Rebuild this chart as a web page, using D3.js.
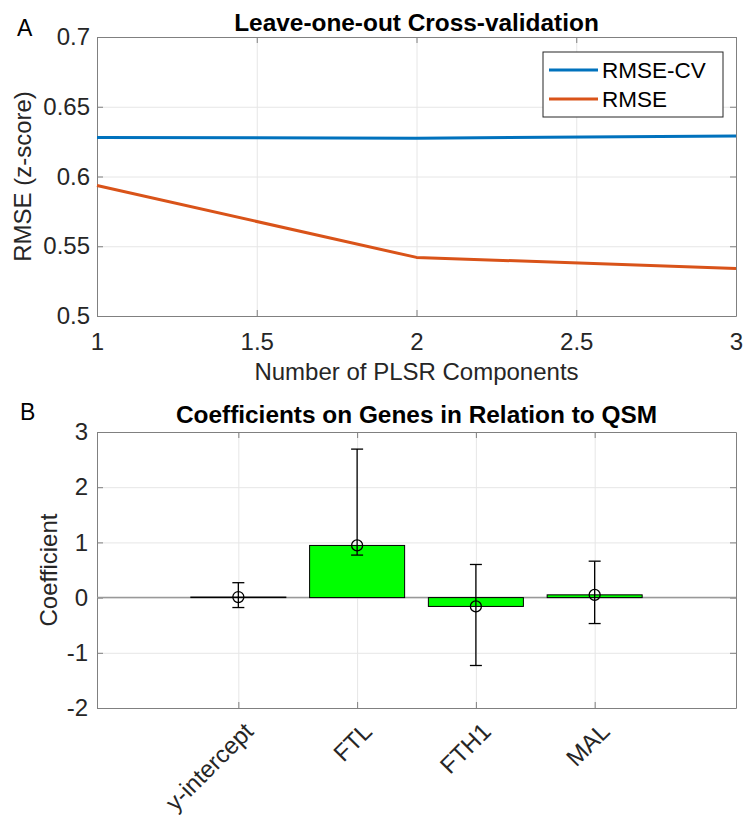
<!DOCTYPE html>
<html>
<head>
<meta charset="utf-8">
<script src="https://cdn.jsdelivr.net/npm/d3@7"></script>
<style>
  body { margin: 0; background: #fff; }
  svg { display: block; font-family: 'Liberation Sans', Arial, sans-serif; }
  .axis path, .axis line { stroke: #808080; }
  .axis text { fill: #262626; font-size: 24px; }
  .grid line { stroke: #e6e6e6; }
  .grid path { display: none; }
</style>
</head>
<body>
<div id="chart"></div>
<script>
// panel A data
const components = [1, 2, 3]
const rmseCV = [0.628, 0.6275, 0.629]
const rmse = [0.5935, 0.542, 0.534]
const xTicksA = [1, 1.5, 2, 2.5, 3]
const yTicksA = [0.5, 0.55, 0.6, 0.65, 0.7]

// panel B data
const genes = ['y-intercept', 'FTL', 'FTH1', 'MAL']
const coef = [0.01, 0.945, -0.16, 0.05]
const errLow = [-0.18, 0.77, -1.23, -0.47]
const errHigh = [0.27, 2.69, 0.6, 0.66]
const yTicksB = [-2, -1, 0, 1, 2, 3]

const width = 744
const height = 815

const svg = d3.select('#chart').append('svg')
    .attr('width', width)
    .attr('height', height)

svg.append('rect').attr('width', width).attr('height', height).attr('fill', '#fff')

// plain labels like matlab: 1, 1.5, -1 (hyphen, no trailing zeros)
const plain = d => String(d)

function frame(x, y, xTicks, yTicks, xPad, yPad) {
    const g = svg.append('g')
    const [x0, x1] = x.range()
    const [y0, y1] = y.range()

    // grid
    g.append('g').attr('class', 'grid')
        .attr('transform', `translate(0,${y0})`)
        .call(d3.axisBottom(x).tickValues(xTicks).tickSize(-(y0 - y1)).tickFormat(''))
    g.append('g').attr('class', 'grid')
        .attr('transform', `translate(${x0},0)`)
        .call(d3.axisLeft(y).tickValues(yTicks).tickSize(-(x1 - x0)).tickFormat(''))

    const ax = {}
    ax.bottom = g.append('g').attr('class', 'axis')
        .attr('transform', `translate(0,${y0})`)
        .call(d3.axisBottom(x).tickValues(xTicks).tickSize(-6).tickSizeOuter(0).tickPadding(xPad).tickFormat(plain))
    g.append('g').attr('class', 'axis')
        .attr('transform', `translate(0,${y1})`)
        .call(d3.axisTop(x).tickValues(xTicks).tickSize(-6).tickSizeOuter(0).tickFormat(''))
    g.append('g').attr('class', 'axis')
        .attr('transform', `translate(${x0},0)`)
        .call(d3.axisLeft(y).tickValues(yTicks).tickSize(-6).tickSizeOuter(0).tickPadding(yPad).tickFormat(plain))
    g.append('g').attr('class', 'axis')
        .attr('transform', `translate(${x1},0)`)
        .call(d3.axisRight(y).tickValues(yTicks).tickSize(-6).tickSizeOuter(0).tickFormat(''))
    return ax
}

// ---------- panel A ----------
const xA = d3.scaleLinear().domain([1, 3]).range([97, 736])
const yA = d3.scaleLinear().domain([0.5, 0.7]).range([316, 37])

frame(xA, yA, xTicksA, yTicksA, 17, 7)

const line = d3.line()
    .x((d, i) => xA(components[i]))
    .y(d => yA(d))

const seriesA = [
    { name: 'RMSE-CV', values: rmseCV, color: '#0072BD' },
    { name: 'RMSE', values: rmse, color: '#D95319' }
]

const plotA = svg.append('g')
seriesA.forEach(s => {
    plotA.append('path')
        .attr('d', line(s.values))
        .attr('fill', 'none')
        .attr('stroke', s.color)
        .attr('stroke-width', 3)
        .attr('stroke-linejoin', 'round')
})

const legend = svg.append('g')
legend.append('rect')
    .attr('x', 543).attr('y', 52)
    .attr('width', 180).attr('height', 65)
    .attr('fill', '#fff')
    .attr('stroke', '#262626')
seriesA.forEach((s, i) => {
    const ly = 70 + i * 29
    legend.append('line')
        .attr('x1', 549).attr('x2', 598)
        .attr('y1', ly).attr('y2', ly)
        .attr('stroke', s.color)
        .attr('stroke-width', 3)
    legend.append('text')
        .text(s.name)
        .attr('x', 602).attr('y', ly + 8)
        .style('font-size', '22.5px')
        .attr('fill', '#000')
})

svg.append('text')
    .text('Leave-one-out Cross-validation')
    .attr('x', 416.5).attr('y', 31)
    .attr('text-anchor', 'middle')
    .style('font-size', '24.4px')
    .style('font-weight', 'bold')

svg.append('text')
    .text('Number of PLSR Components')
    .attr('x', 416.5).attr('y', 380)
    .attr('text-anchor', 'middle')
    .style('font-size', '24px')
    .attr('fill', '#262626')

svg.append('text')
    .text('RMSE (z-score)')
    .attr('transform', 'translate(31,176.5) rotate(-90)')
    .attr('text-anchor', 'middle')
    .style('font-size', '24px')
    .attr('fill', '#262626')

svg.append('text')
    .text('A')
    .attr('x', 17).attr('y', 36)
    .style('font-size', '23px')

// ---------- panel B ----------
const xB = d3.scaleLinear().domain([-0.19, 5.19]).range([97, 736])
const yB = d3.scaleLinear().domain([-2, 3]).range([708, 432])

const idx = genes.map((d, i) => i + 1)
const axB = frame(xB, yB, idx, yTicksB, 0, 9)

axB.bottom.selectAll('.tick text')
    .text((d, i) => genes[i])
    .attr('x', 0)
    .attr('y', 0)
    .attr('dy', '0.35em')
    .attr('text-anchor', 'end')
    .attr('transform', 'translate(10,19) rotate(-45)')

const plotB = svg.append('g')

// baseline at zero
plotB.append('line')
    .attr('x1', xB.range()[0]).attr('x2', xB.range()[1])
    .attr('y1', yB(0)).attr('y2', yB(0))
    .attr('stroke', '#999')
    .attr('stroke-width', 1.5)

plotB.selectAll('rect.bar')
    .data(coef)
    .enter()
    .append('rect')
    .attr('class', 'bar')
    .attr('x', (d, i) => xB(i + 1 - 0.4))
    .attr('width', (d, i) => xB(i + 1 + 0.4) - xB(i + 1 - 0.4))
    .attr('y', d => yB(Math.max(d, 0)))
    .attr('height', d => Math.abs(yB(d) - yB(0)))
    .attr('fill', '#00ff00')
    .attr('stroke', '#000')
    .attr('stroke-width', 1)

const err = plotB.selectAll('g.err')
    .data(coef)
    .enter()
    .append('g')
    .attr('class', 'err')
    .attr('transform', (d, i) => `translate(${xB(i + 1)},0)`)

err.append('line')
    .attr('y1', (d, i) => yB(errLow[i]))
    .attr('y2', (d, i) => yB(errHigh[i]))
    .attr('stroke', '#000').attr('stroke-width', 1.3)
err.append('line')
    .attr('x1', -6).attr('x2', 6)
    .attr('y1', (d, i) => yB(errLow[i])).attr('y2', (d, i) => yB(errLow[i]))
    .attr('stroke', '#000').attr('stroke-width', 1.3)
err.append('line')
    .attr('x1', -6).attr('x2', 6)
    .attr('y1', (d, i) => yB(errHigh[i])).attr('y2', (d, i) => yB(errHigh[i]))
    .attr('stroke', '#000').attr('stroke-width', 1.3)
err.append('circle')
    .attr('cy', d => yB(d))
    .attr('r', 5.5)
    .attr('fill', 'none')
    .attr('stroke', '#000')
    .attr('stroke-width', 1.3)

svg.append('text')
    .text('Coefficients on Genes in Relation to QSM')
    .attr('x', 416.5).attr('y', 423)
    .attr('text-anchor', 'middle')
    .style('font-size', '24.4px')
    .style('font-weight', 'bold')

svg.append('text')
    .text('Coefficient')
    .attr('transform', 'translate(57,570) rotate(-90)')
    .attr('text-anchor', 'middle')
    .style('font-size', '24px')
    .attr('fill', '#262626')

svg.append('text')
    .text('B')
    .attr('x', 20).attr('y', 420)
    .style('font-size', '23px')
</script>
</body>
</html>
